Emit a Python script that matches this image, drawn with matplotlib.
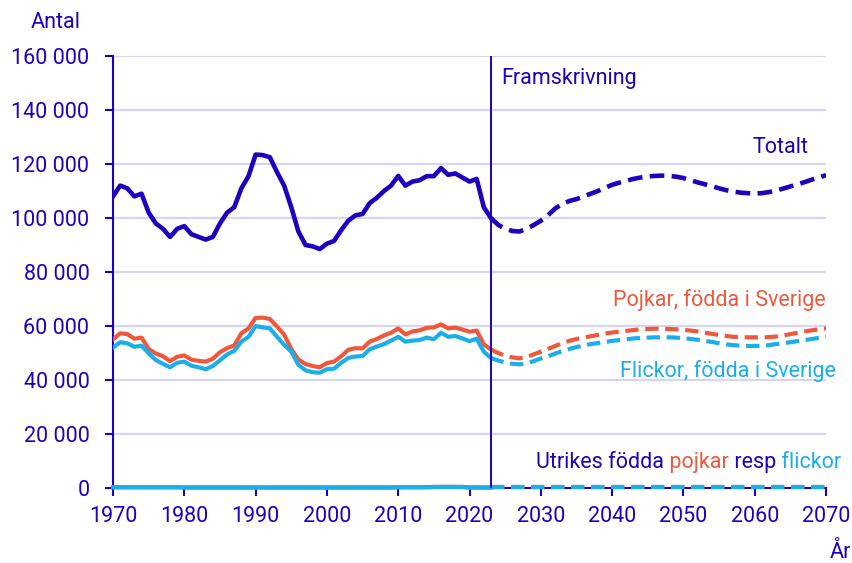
import numpy as np
import matplotlib
matplotlib.use("Agg")
import matplotlib.pyplot as plt
from matplotlib.ticker import FuncFormatter

plt.rcParams['font.family'] = ['Roboto', 'DejaVu Sans']

# ==========================================
# DATA (thousands of children)
# ==========================================
years_hist = list(range(1970, 2024))
years_proj = list(range(2023, 2071))

tot_hist = [108, 112, 111, 108, 109, 102, 98, 96, 93, 96,
            97, 94, 93, 92, 93, 98, 102, 104, 111, 115.5,
            123.5, 123.3, 122.5, 117, 112, 104, 95, 90, 89.5, 88.5,
            90.5, 91.5, 95.5, 99, 101, 101.5, 105.5, 107.5, 110, 112,
            115.6, 112, 113.5, 114, 115.5, 115.5, 118.5, 116, 116.5, 115,
            113.5, 114.5, 104, 100]
pojk_hist = [55.1, 57.3, 57, 55.3, 55.7, 51.5, 49.8, 48.8, 47, 48.6,
             49.1, 47.5, 47.1, 46.8, 47.9, 50.3, 51.8, 52.8, 57.3, 59.1,
             63, 63.1, 62.6, 59.8, 56.8, 51.5, 47.6, 45.9, 45.2, 44.7,
             46.3, 46.8, 48.8, 51.2, 51.8, 51.7, 54.2, 55.2, 56.5, 57.5,
             59.1, 56.9, 58, 58.4, 59.3, 59.5, 60.6, 59.1, 59.4, 58.7,
             57.9, 58.3, 53.2, 51.3]
flick_hist = [52, 54, 53.6, 52.3, 52.7, 49.9, 47.4, 46, 44.7, 46.4,
              46.8, 45.3, 44.7, 44, 45.2, 47.3, 49.5, 50.8, 54.2, 56,
              60, 59.5, 59.1, 56, 53, 50.5, 45.6, 43.6, 42.9, 42.7,
              44, 44.2, 46.4, 48.2, 48.7, 48.9, 51.4, 52.4, 53.3, 54.6,
              56, 54.2, 54.6, 54.8, 55.7, 55.1, 57.5, 56, 56.3, 55.4,
              54.4, 55.3, 50.5, 48.2]

tot_proj = [100, 97.5, 96, 95.2, 95, 96, 97.4, 99, 101, 103.5,
            105.2, 106.3, 107, 108, 109, 110, 111.2, 112.3, 113.1, 113.8,
            114.5, 115, 115.4, 115.6, 115.7, 115.6, 115.3, 114.8, 114, 113.2,
            112.5, 111.8, 111, 110.3, 109.8, 109.4, 109.2, 109.1, 109.2, 109.6,
            110.2, 110.9, 111.7, 112.5, 113.3, 114.2, 115, 115.9]
pojk_proj = [51.3, 50, 49, 48.4, 48, 48.5, 49.5, 50.5, 51.5, 52.6,
             53.6, 54.5, 55.2, 55.7, 56.2, 56.7, 57.2, 57.6, 57.9, 58.2,
             58.5, 58.8, 58.9, 59, 59, 58.9, 58.8, 58.6, 58.3, 58,
             57.5, 57.1, 56.7, 56.3, 56, 55.9, 55.8, 55.8, 55.8, 55.9,
             56.1, 56.5, 57, 57.5, 58, 58.4, 58.8, 59.1]
flick_proj = [48.2, 47.2, 46.5, 46, 45.8, 46.2, 47, 48, 48.8, 49.8,
              50.7, 51.5, 52.2, 52.8, 53.3, 53.7, 54.1, 54.5, 54.8, 55.1,
              55.4, 55.6, 55.7, 55.8, 55.8, 55.8, 55.7, 55.5, 55.2, 54.9,
              54.5, 54.1, 53.6, 53.2, 52.9, 52.7, 52.6, 52.6, 52.7, 52.9,
              53.3, 53.6, 54, 54.4, 54.8, 55.2, 55.6, 56]

# foreign-born boys / girls, hugging the zero line
utr_pojk_hist = [0.3] * 10 + [0.2] * 30 + [0.3] * 5 + [0.4] * 5 + [0.2] * 4
utr_flick_hist = [0.3] * 10 + [0.2] * 30 + [0.3] * 5 + [0.4] * 5 + [0.2] * 4
utr_pojk_proj = [0.2] * 48
utr_flick_proj = [0.2] * 48

# ==========================================
# STYLE
# ==========================================
BLUE = '#1E00BE'
RED = '#F0583C'
LIGHT = '#1AAFEA'
GRID = '#D6D6F2'

fig = plt.figure(figsize=(8.53, 5.63), dpi=100)
ax = fig.add_axes([0.1325, 0.1332, 0.8359, 0.7673])

for y in range(20, 161, 20):
    ax.axhline(y * 1000, color=GRID, lw=1.6, zorder=0)

dash = (0, (3.2, 1.6))
k = 1000

ax.plot(years_hist, np.array(utr_pojk_hist) * k, color=RED, lw=3.0, zorder=3, clip_on=False)
ax.plot(years_proj, np.array(utr_pojk_proj) * k, color=RED, lw=3.0, ls=dash, zorder=3, clip_on=False)
ax.plot(years_hist, np.array(utr_flick_hist) * k, color=LIGHT, lw=3.0, zorder=3, clip_on=False)
ax.plot(years_proj, np.array(utr_flick_proj) * k, color=LIGHT, lw=3.0, ls=dash, zorder=3, clip_on=False)

ax.plot(years_hist, np.array(pojk_hist) * k, color=RED, lw=3.0, solid_joinstyle='round', zorder=3)
ax.plot(years_proj, np.array(pojk_proj) * k, color=RED, lw=3.0, ls=dash, zorder=3)
ax.plot(years_hist, np.array(flick_hist) * k, color=LIGHT, lw=3.0, solid_joinstyle='round', zorder=3)
ax.plot(years_proj, np.array(flick_proj) * k, color=LIGHT, lw=3.0, ls=dash, zorder=3)
ax.plot(years_hist, np.array(tot_hist) * k, color=BLUE, lw=3.3, solid_joinstyle='round', zorder=4)
ax.plot(years_proj, np.array(tot_proj) * k, color=BLUE, lw=3.3, ls=dash, zorder=4)

ax.axvline(2023, color=BLUE, lw=1.4, zorder=5)

ax.set_xlim(1970, 2070)
ax.set_ylim(0, 160000)
ax.set_xticks(range(1970, 2071, 10))
ax.set_yticks(range(0, 160001, 20000))
ax.yaxis.set_major_formatter(FuncFormatter(lambda v, p: f"{v:,.0f}".replace(",", " ")))

for side in ['top', 'right']:
    ax.spines[side].set_visible(False)
for side in ['left', 'bottom']:
    ax.spines[side].set_color(BLUE)
    ax.spines[side].set_linewidth(1.5)
    ax.spines[side].set_zorder(2.5)
ax.tick_params(axis='both', colors=BLUE, labelcolor=BLUE, labelsize=15.5, length=6, width=1.5)
ax.tick_params(axis='y', pad=11)
ax.tick_params(axis='x', pad=7)

# ==========================================
# TEXT
# ==========================================
fs = 15.5
fig.text(56 / 853, 1 - 22 / 563, 'Antal', color=BLUE, fontsize=fs, ha='center', va='center')
fig.text(840 / 853, 1 - 552 / 563, 'År', color=BLUE, fontsize=fs, ha='center', va='center')

ax.text(2024.5, 151500, 'Framskrivning', color=BLUE, fontsize=fs, ha='left', va='center')
ax.text(2067.5, 126300, 'Totalt', color=BLUE, fontsize=fs, ha='right', va='center')
ax.text(2070, 69600, 'Pojkar, födda i Sverige', color=RED, fontsize=fs, ha='right', va='center')
ax.text(2071.4, 43300, 'Flickor, födda i Sverige', color=LIGHT, fontsize=fs, ha='right', va='center',
        clip_on=False)

t1 = ax.text(2029.3, 9600, 'Utrikes födda', color=BLUE, fontsize=fs, ha='left', va='center')
t2 = ax.annotate(' pojkar', xy=(1, 0), xycoords=t1, color=RED, fontsize=fs, ha='left', va='bottom')
t3 = ax.annotate(' resp', xy=(1, 0), xycoords=t2, color=BLUE, fontsize=fs, ha='left', va='bottom')
ax.annotate(' flickor', xy=(1, 0), xycoords=t3, color=LIGHT, fontsize=fs, ha='left', va='bottom')

fig.savefig('out.png', dpi=100)
